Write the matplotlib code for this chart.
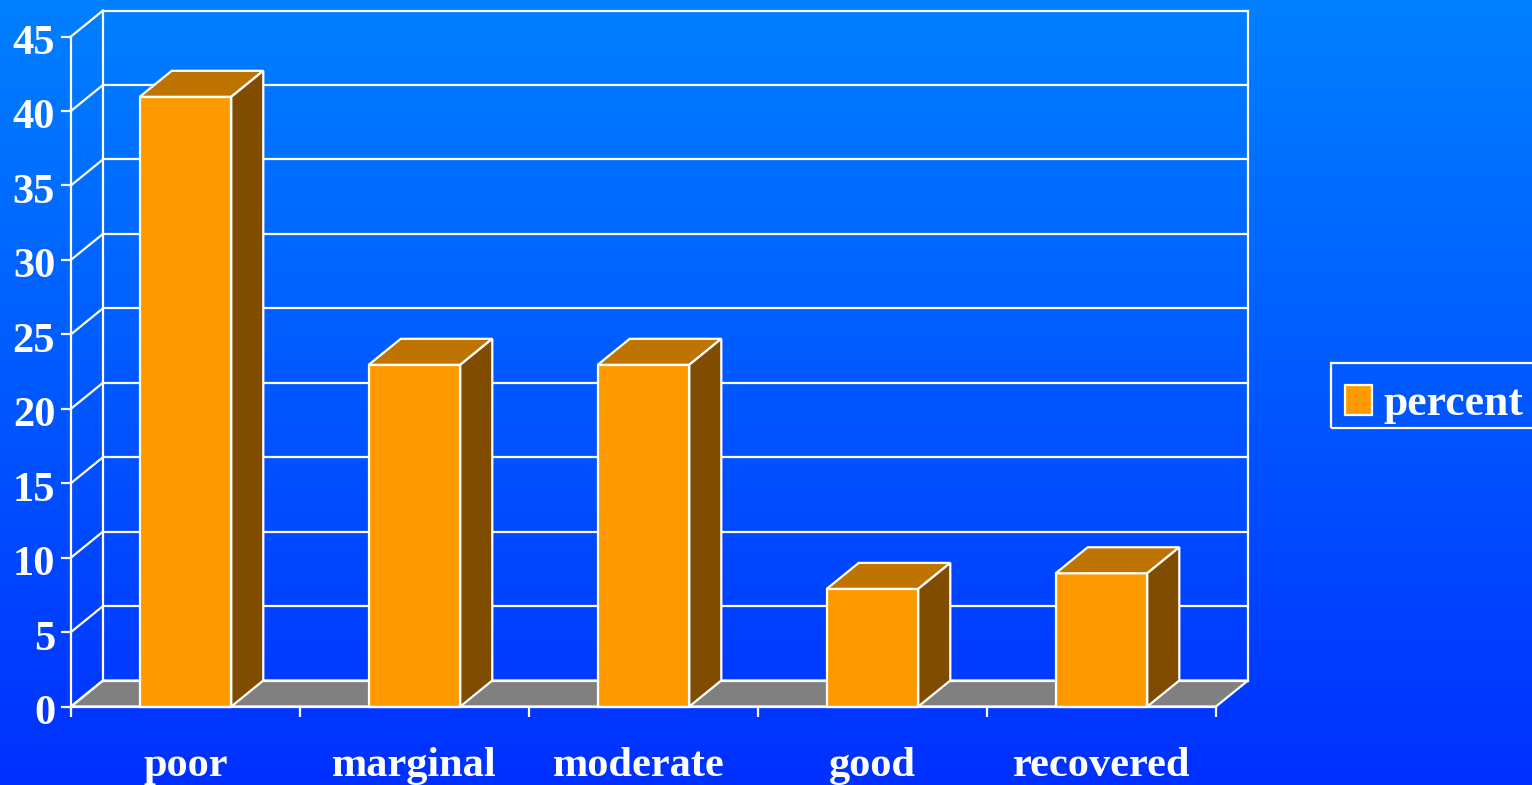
import numpy as np
import matplotlib
matplotlib.use("Agg")
import matplotlib.pyplot as plt
from matplotlib.colors import LinearSegmentedColormap
from matplotlib.patches import Patch, Polygon, Rectangle
from matplotlib.transforms import ScaledTranslation

categories = ["poor", "marginal", "moderate", "good", "recovered"]
percent = [40.95, 22.95, 22.95, 7.9, 8.95]
y_ticks = [0, 5, 10, 15, 20, 25, 30, 35, 40, 45]

plt.rcParams["font.family"] = ["Liberation Serif", "DejaVu Serif"]
plt.rcParams["font.weight"] = "bold"

WHITE = "white"
LW = 1.6
FONT = 30.5
# depth of the fake 3d box, in data units
DX = 32 / 229
DY = 26 / 14.889
BAR_W = 0.4

fig = plt.figure(figsize=(15.32, 7.85), dpi=100)

# gradient background
bg = fig.add_axes([0, 0, 1, 1], zorder=0)
cmap = LinearSegmentedColormap.from_list("bg", ["#0080FF", "#0030FF"])
bg.imshow(np.linspace(0, 1, 256).reshape(-1, 1), aspect="auto", cmap=cmap)
bg.axis("off")

ax = fig.add_axes([71 / 1532, (785 - 706.5) / 785, 1145 / 1532, 670 / 785], zorder=1)
ax.patch.set_visible(False)
ax.set_xlim(0, len(categories))
ax.set_ylim(0, 45)

n = len(categories)

# floor
ax.add_patch(Polygon([(0, 0), (n, 0), (n + DX, DY), (DX, DY)], closed=True,
                     facecolor="#808080", edgecolor=WHITE, lw=LW, clip_on=False, zorder=1))

# back wall and side wall lines
for v in y_ticks:
    ax.plot([DX, n + DX], [v + DY, v + DY], color=WHITE, lw=LW, clip_on=False, zorder=1)
    ax.plot([0, DX], [v, v + DY], color=WHITE, lw=LW, clip_on=False, zorder=1)
ax.plot([DX, DX], [DY, 45 + DY], color=WHITE, lw=LW, clip_on=False, zorder=1)
ax.plot([n + DX, n + DX], [DY, 45 + DY], color=WHITE, lw=LW, clip_on=False, zorder=1)

# bars
for i, val in enumerate(percent):
    x0 = i + 0.5 - BAR_W / 2
    x1 = x0 + BAR_W
    ax.bar(i + 0.5, val, width=BAR_W, color="#FF9900", edgecolor=WHITE, lw=LW,
           clip_on=False, zorder=3)
    ax.add_patch(Polygon([(x0, val), (x1, val), (x1 + DX, val + DY), (x0 + DX, val + DY)],
                         closed=True, facecolor="#BF7300", edgecolor=WHITE, lw=LW,
                         clip_on=False, zorder=3))
    ax.add_patch(Polygon([(x1, 0), (x1 + DX, DY), (x1 + DX, val + DY), (x1, val)],
                         closed=True, facecolor="#804D00", edgecolor=WHITE, lw=LW,
                         clip_on=False, zorder=3))

# axes
for side in ["top", "right"]:
    ax.spines[side].set_visible(False)
for side in ["left", "bottom"]:
    ax.spines[side].set_color(WHITE)
    ax.spines[side].set_linewidth(LW)
    ax.spines[side].set_zorder(4)

ax.set_yticks(y_ticks)
ax.set_yticklabels([str(v) for v in y_ticks])
ax.tick_params(axis="y", colors=WHITE, length=7.5, width=LW, labelsize=FONT, pad=3.9)
ax.set_xticks(range(n + 1))
ax.set_xticklabels([])
ax.tick_params(axis="x", which="major", color=WHITE, length=7.5, width=LW)
ax.set_xticks(np.arange(n) + 0.5, minor=True)
ax.set_xticklabels(categories, minor=True)
ax.tick_params(axis="x", which="minor", length=0, labelcolor=WHITE, labelsize=FONT, pad=29)

# y labels sit a little below their ticks in the original
for lab in ax.get_yticklabels():
    lab.set_transform(lab.get_transform() + ScaledTranslation(0, -3 / 100, fig.dpi_scale_trans))
# moderate label is off centre too
mod = ax.get_xticklabels(minor=True)[2]
mod.set_transform(mod.get_transform() + ScaledTranslation(-5 / 100, 0, fig.dpi_scale_trans))

# legend: contents sit low in the box, so the box is drawn on its own
fig.add_artist(Rectangle((1331 / 1532, (785 - 428) / 785), 210 / 1532, 65 / 785,
                         transform=fig.transFigure, facecolor="none",
                         edgecolor=WHITE, lw=LW, zorder=5))
handle = Patch(facecolor="#FF9900", edgecolor=WHITE, lw=LW)
leg = fig.legend([handle], ["percent"], loc="upper left",
                 bbox_to_anchor=(1331 / 1532, (785 - 370) / 785),
                 fontsize=31.5, frameon=False, labelcolor=WHITE, borderaxespad=0,
                 handlelength=0.62, handleheight=0.68, handletextpad=0.26,
                 borderpad=0.32)
leg.set_zorder(5)

fig.savefig("out.png", dpi=100)
